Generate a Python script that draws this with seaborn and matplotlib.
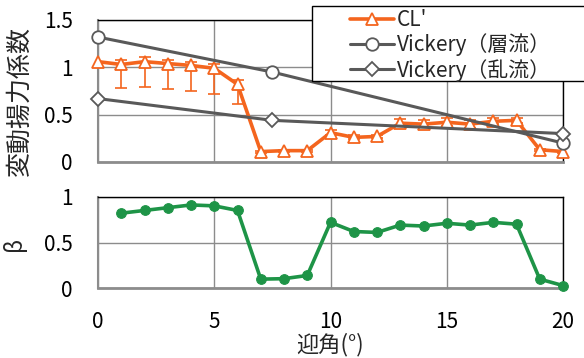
import numpy as np
import matplotlib
matplotlib.use("Agg")
import matplotlib.pyplot as plt
from matplotlib.patches import Rectangle
import seaborn as sns

# data
angle = list(range(0, 21))
cl = [1.06, 1.03, 1.06, 1.04, 1.02, 0.99, 0.82, 0.11, 0.12, 0.12, 0.31,
      0.26, 0.27, 0.41, 0.40, 0.42, 0.40, 0.43, 0.44, 0.13, 0.11]
cl_err_low = [0.0, 0.25, 0.27, 0.27, 0.27, 0.27, 0.21, 0.01, 0.01, 0.01, 0.03,
              0.02, 0.02, 0.04, 0.04, 0.04, 0.04, 0.03, 0.03, 0.01, 0.01]
cl_err_high = [0.0, 0.05, 0.05, 0.04, 0.04, 0.05, 0.05, 0.01, 0.01, 0.01, 0.03,
               0.02, 0.02, 0.04, 0.04, 0.04, 0.04, 0.03, 0.03, 0.01, 0.01]

vick_x = [0, 7.5, 20]
vick_lam = [1.32, 0.95, 0.20]
vick_tur = [0.67, 0.44, 0.30]

beta_x = list(range(1, 21))
beta = [0.82, 0.85, 0.88, 0.91, 0.90, 0.85, 0.10, 0.105, 0.14, 0.72,
        0.62, 0.61, 0.69, 0.68, 0.71, 0.69, 0.72, 0.70, 0.10, 0.03]

legend_labels = ["CL'", "Vickery（層流）", "Vickery（乱流）"]

sns.set_theme(style="white")
plt.rcParams['font.family'] = ['Noto Sans CJK JP', 'DejaVu Sans']

orange = "#F4651E"
gray = "#595959"
green = "#1E9447"
grid_c = "#8C8C8C"

W, H = 584, 358
fig = plt.figure(figsize=(W / 100, H / 100), dpi=100)
ax1 = fig.add_axes([98 / W, 1 - 162 / H, 465 / W, 142 / H])
ax2 = fig.add_axes([98 / W, 1 - 288.3 / H, 465 / W, 91.6 / H])

# top chart
ax1.errorbar(angle, cl, yerr=[cl_err_low, cl_err_high], fmt='none',
             ecolor=orange, elinewidth=1.2, capsize=4, capthick=1.2, zorder=2)
sns.lineplot(x=angle, y=cl, ax=ax1, color=orange, lw=2.6, marker='^',
             markersize=9, markerfacecolor='white', markeredgecolor=orange,
             markeredgewidth=1.3, label=legend_labels[0], zorder=3, clip_on=False)
sns.lineplot(x=vick_x, y=vick_lam, ax=ax1, color=gray, lw=2.2, marker='o',
             markersize=9, markerfacecolor='white', markeredgecolor=gray,
             markeredgewidth=1.3, label=legend_labels[1], zorder=4, clip_on=False)
sns.lineplot(x=vick_x, y=vick_tur, ax=ax1, color=gray, lw=2.2, marker='D',
             markersize=7, markerfacecolor='white', markeredgecolor=gray,
             markeredgewidth=1.3, label=legend_labels[2], zorder=4, clip_on=False)

ax1.set_xlim(0, 20)
ax1.set_ylim(0, 1.5)
ax1.set_xticks([0, 5, 10, 15, 20])
ax1.set_xticklabels([])
ax1.set_yticks([0, 0.5, 1, 1.5])
ax1.set_yticklabels(["0", "0.5", "1", "1.5"])
ax1.set_ylabel("変動揚力係数", fontsize=18)
ax1.yaxis.set_label_coords(-0.14, 0.43)

# bottom chart
sns.lineplot(x=beta_x, y=beta, ax=ax2, color=green, lw=2.6, marker='o',
             markersize=7, markeredgecolor=green, zorder=3, clip_on=False)
ax2.set_xlim(0, 20)
ax2.set_ylim(0, 1)
ax2.set_xticks([0, 5, 10, 15, 20])
ax2.set_yticks([0, 0.5, 1])
ax2.set_yticklabels(["0", "0.5", "1"])
ax2.set_ylabel("β", fontsize=16)
ax2.yaxis.set_label_coords(-0.155, 0.48)
ax2.set_xlabel("迎角(°)", fontsize=16, labelpad=0)

for ax in (ax1, ax2):
    ax.grid(True, color=grid_c, lw=1)
    ax.set_axisbelow(True)
    ax.tick_params(axis='both', length=0, labelsize=15, colors='black')
    ax.tick_params(axis='y', pad=18)
    ax.tick_params(axis='x', pad=16)
    ax.spines['left'].set_color(grid_c)
    ax.spines['left'].set_linewidth(1.5)
    ax.spines['bottom'].set_color(grid_c)
    ax.spines['bottom'].set_linewidth(2)
    ax.spines['top'].set_color('black')
    ax.spines['top'].set_linewidth(1)
    ax.spines['right'].set_color('black')
    ax.spines['right'].set_linewidth(1)

# legend box runs off the right edge like in the original
box = Rectangle((312 / W, 1 - 81 / H), 300 / W, 75 / H, transform=fig.transFigure,
                facecolor='white', edgecolor='black', lw=1, zorder=4)
fig.add_artist(box)
handles, labels = ax1.get_legend_handles_labels()
ax1.get_legend().remove()
leg = fig.legend(handles, labels, loc='upper left',
                 bbox_to_anchor=(350 / W, 1 - 9 / H), fontsize=15, frameon=False,
                 handlelength=2.1, borderpad=0, labelspacing=0.12,
                 handletextpad=0.15, borderaxespad=0)
leg.set_zorder(6)

fig.savefig("out.png", dpi=100)
